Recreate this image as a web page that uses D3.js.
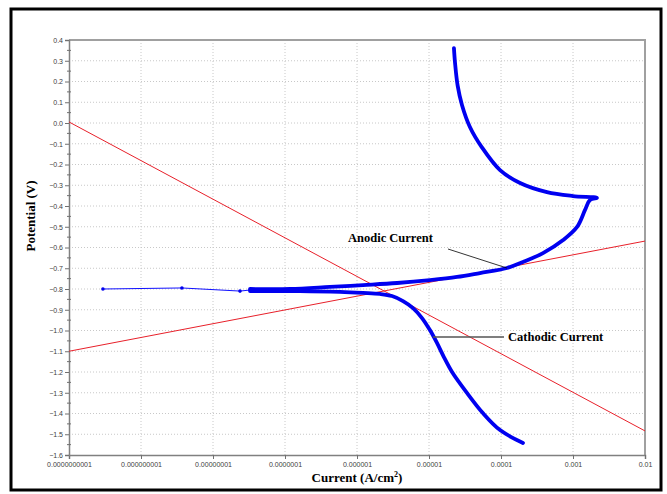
<!DOCTYPE html>
<html>
<head>
<meta charset="utf-8">
<script src="https://cdn.jsdelivr.net/npm/d3@7"></script>
<style>
  body { margin: 0; background: #fff; }
  svg { display: block; }
</style>
</head>
<body>
<div id="chart"></div>
<script>
// tick values and labels
const xTicks = [1e-10, 1e-9, 1e-8, 1e-7, 1e-6, 1e-5, 1e-4, 1e-3, 1e-2];
const xTickLabels = ['0.0000000001', '0.000000001', '0.00000001', '0.0000001',
  '0.000001', '0.00001', '0.0001', '0.001', '0.01'];
const yTicks = d3.range(-16, 5).map(d => d / 10);

// thin low-current tail with isolated points
const tailI = [2.96e-10, 3.7e-9, 2.37e-8, 3.27e-8];
const tailE = [-0.800, -0.795, -0.810, -0.805];

// anodic branch and its return towards the top
const anodicI = [3.27e-8, 1.17e-7, 4.2e-7, 1.21e-6, 3.6e-6, 1.03e-5, 2.45e-5, 5.1e-5,
  1.21e-4, 2.02e-4, 3.83e-4, 7.3e-4, 1.14e-3, 1.47e-3, 1.72e-3, 2.15e-3,
  1.0e-3, 4.35e-4, 1.84e-4, 9.7e-5, 5.4e-5, 3.7e-5, 2.87e-5, 2.5e-5, 2.3e-5, 2.22e-5];
const anodicE = [-0.800, -0.800, -0.790, -0.781, -0.771, -0.757, -0.742, -0.723,
  -0.699, -0.670, -0.627, -0.564, -0.501, -0.419, -0.371, -0.361,
  -0.352, -0.333, -0.289, -0.227, -0.116, -0.019, 0.087, 0.180, 0.289, 0.361];

// cathodic branch
const cathodicI = [3.27e-8, 1.6e-7, 5.8e-7, 1.21e-6, 2.08e-6, 3.06e-6, 4.36e-6, 6.0e-6,
  8.0e-6, 1.03e-5, 1.29e-5, 1.61e-5, 2.09e-5, 3.37e-5, 5.6e-5, 9.7e-5, 2.02e-4];
const cathodicE = [-0.810, -0.810, -0.814, -0.819, -0.824, -0.834, -0.858, -0.892,
  -0.940, -0.998, -1.060, -1.128, -1.200, -1.301, -1.398, -1.480, -1.542];

// Tafel lines (end points at the axis limits)
const tafelCathI = [1e-10, 1e-2];
const tafelCathE = [0.005, -1.484];
const tafelAnodI = [1e-10, 1e-2];
const tafelAnodE = [-1.100, -0.569];

const width = 667, height = 494;
const plotL = 69, plotR = 645, plotT = 40, plotB = 455;

const svg = d3.select('#chart').append('svg')
  .attr('width', width)
  .attr('height', height);

// outer frame
svg.append('rect')
  .attr('x', 11).attr('y', 9)
  .attr('width', 650).attr('height', 481)
  .attr('fill', 'none')
  .attr('stroke', '#000')
  .attr('stroke-width', 3);

const x = d3.scaleLog().domain([1e-10, 1e-2]).range([plotL, plotR]);
const y = d3.scaleLinear().domain([-1.6, 0.4]).range([plotB, plotT]);

// dotted grid
const grid = svg.append('g')
  .attr('stroke', '#c8c8c8')
  .attr('stroke-width', 1)
  .attr('stroke-dasharray', '1,2');
grid.selectAll('.gx')
  .data(xTicks.slice(1, -1))
  .enter().append('line')
  .attr('x1', d => x(d)).attr('x2', d => x(d))
  .attr('y1', plotT).attr('y2', plotB);
grid.selectAll('.gy')
  .data(yTicks.slice(1, -1))
  .enter().append('line')
  .attr('x1', plotL).attr('x2', plotR)
  .attr('y1', d => y(d)).attr('y2', d => y(d));

// top and right border
svg.append('path')
  .attr('d', `M${plotL},${plotT}H${plotR}V${plotB}`)
  .attr('fill', 'none')
  .attr('stroke', '#a0a0a0')
  .attr('stroke-width', 2);

// axes
const xAxis = svg.append('g')
  .attr('transform', `translate(0,${plotB})`)
  .call(d3.axisBottom(x).tickValues(xTicks)
    .tickFormat((d, i) => xTickLabels[i]).tickSize(4).tickPadding(3));
const yAxis = svg.append('g')
  .attr('transform', `translate(${plotL},0)`)
  .call(d3.axisLeft(y).tickValues(yTicks)
    .tickFormat(d3.format('.1f')).tickSize(4).tickPadding(2));

// minor ticks on the y axis
svg.append('g').selectAll('line')
  .data(yTicks.slice(0, -1).map(d => d + 0.05))
  .enter().append('line')
  .attr('x1', plotL - 2).attr('x2', plotL + 2)
  .attr('y1', d => y(d)).attr('y2', d => y(d))
  .attr('stroke', '#707070');

[xAxis, yAxis].forEach(a => {
  a.select('.domain').attr('stroke', '#808080').attr('stroke-width', 1.5);
  a.selectAll('.tick line').attr('stroke', '#707070');
  a.selectAll('text')
    .attr('fill', '#404040')
    .style('font-family', 'Liberation Sans, Arial, sans-serif')
    .style('font-size', '7px');
});

// Tafel lines
const line = d3.line().x(d => x(d[0])).y(d => y(d[1]));
[[tafelCathI, tafelCathE], [tafelAnodI, tafelAnodE]].forEach(([I, E]) => {
  svg.append('path')
    .attr('d', line(d3.zip(I, E)))
    .attr('fill', 'none')
    .attr('stroke', '#e8202a')
    .attr('stroke-width', 1);
});

// measured curve
const curve = d3.line().x(d => x(d[0])).y(d => y(d[1])).curve(d3.curveCatmullRom);
svg.append('path')
  .attr('d', line(d3.zip(tailI, tailE)))
  .attr('fill', 'none')
  .attr('stroke', '#1010ff')
  .attr('stroke-width', 1);
svg.selectAll('.dot')
  .data(d3.zip(tailI, tailE))
  .enter().append('circle')
  .attr('cx', d => x(d[0]))
  .attr('cy', d => y(d[1]))
  .attr('r', 1.8)
  .attr('fill', '#0000ee');
[[anodicI, anodicE], [cathodicI, cathodicE]].forEach(([I, E]) => {
  svg.append('path')
    .attr('d', curve(d3.zip(I, E)))
    .attr('fill', 'none')
    .attr('stroke', '#0000f0')
    .attr('stroke-width', 3.8)
    .attr('stroke-linecap', 'round')
    .attr('stroke-linejoin', 'round');
});

// annotations
const serif = 'Liberation Serif, Times New Roman, serif';
svg.append('line')
  .attr('x1', 448).attr('y1', 249).attr('x2', x(1.21e-4)).attr('y2', y(-0.699))
  .attr('stroke', '#000').attr('stroke-width', 0.8);
svg.append('text')
  .attr('x', 348).attr('y', 242)
  .style('font-family', serif).style('font-weight', 'bold').style('font-size', '12.5px')
  .text('Anodic Current');
svg.append('line')
  .attr('x1', 433).attr('y1', 337).attr('x2', 504).attr('y2', 337)
  .attr('stroke', '#555').attr('stroke-width', 1.5);
svg.append('text')
  .attr('x', 508).attr('y', 341)
  .style('font-family', serif).style('font-weight', 'bold').style('font-size', '12.5px')
  .text('Cathodic Current');

// axis titles
const xt = svg.append('text')
  .attr('x', 357).attr('y', 482)
  .attr('text-anchor', 'middle')
  .style('font-family', serif).style('font-weight', 'bold').style('font-size', '13px');
xt.append('tspan').text('Current (A/cm');
xt.append('tspan').attr('dy', -5).style('font-size', '8px').text('2');
xt.append('tspan').attr('dy', 5).text(')');

svg.append('text')
  .attr('transform', 'translate(35,216) rotate(-90)')
  .attr('text-anchor', 'middle')
  .style('font-family', serif).style('font-weight', 'bold').style('font-size', '13px')
  .text('Potential (V)');
</script>
</body>
</html>
